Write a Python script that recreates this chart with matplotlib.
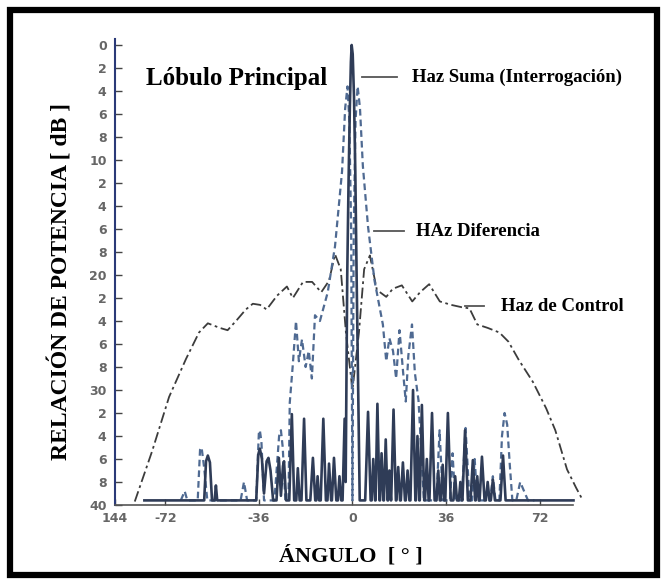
import numpy as np
import matplotlib
matplotlib.use("Agg")
import matplotlib.pyplot as plt
from matplotlib.patches import Rectangle

# Haz de Control (dash-dot)
ctrl_ang = [-83.7, -77, -70.5, -64, -59, -55.6, -51, -48, -44.4, -41, -38.3, -35.5, -33, -29,
            -25.2, -22.9, -19, -15.5, -12, -9, -6.7, -4.5, -2.5, 0, 2.5, 4.5, 6.7, 9.4, 13,
            15.5, 19, 23, 26, 29.5, 33.6, 38, 42, 45, 48, 52, 56.5, 60, 64, 69.4, 74.5, 78,
            82.5, 86, 88.6]
ctrl_db = [39.7, 35.3, 30.6, 27.3, 25.0, 24.2, 24.6, 24.8, 23.9, 23.0, 22.5, 22.6, 23.0, 21.8,
           21.0, 22.0, 20.6, 20.6, 21.5, 20.5, 18.2, 19.5, 25.0, 30.0, 25.0, 19.5, 18.3, 21.3, 21.9,
           21.2, 20.9, 22.3, 21.5, 20.8, 22.3, 22.6, 22.8, 22.9, 24.3, 24.6, 25.0, 25.8, 27.4, 29.3,
           31.6, 33.5, 36.9, 38.5, 39.6]

# Haz Suma (solid)
sum_ang = [-80, -57.0, -56.3, -55.6, -54.8, -54.0, -53.0, -52.5, -52.0,
           -37.0, -36.2, -35.6, -34.8, -34.0, -33.0, -32.3, -31.5, -30.5,
           -29.2, -28.3, -27.5, -26.7, -26.3, -25.5, -24.3, -23.3, -22.4,
           -21.6, -21.0, -20.3, -19.6, -18.6, -17.7, -16.2, -15.2, -14.3,
           -13.9, -13.4, -12.8, -12.2, -11.2, -10.2, -9.6, -9.0, -8.2,
           -7.9, -7.1, -6.2, -5.6, -5.0, -4.3, -3.8, -3.0, -2.6,
           -2.0, -1.5, -1.0, -0.6, -0.3, 0.1, 0.6, 1.1, 1.6, 2.2, 2.8,
           4.9, 6.0, 7.0, 7.4, 8.0, 8.7, 8.9, 9.6, 10.4, 10.6, 11.2, 11.9,
           12.1, 12.8, 13.5, 13.7, 14.2, 14.8, 14.9, 15.8, 16.7, 16.9, 17.6, 18.3,
           18.6, 19.4, 20.2, 20.5, 21.2, 21.9, 22.3, 23.3, 24.2, 24.4, 25.0, 25.7,
           25.9, 26.7, 27.6, 27.9, 28.6, 29.3, 29.6, 30.6, 31.6, 32.3, 33.0, 33.6,
           34.0, 34.7, 35.3, 35.7, 36.7, 37.8, 38.8, 39.5, 40.2, 40.9, 41.5, 42.1,
           42.3, 43.3, 44.4, 45.4, 46.3, 47.2, 47.4, 48.0, 48.6, 48.9, 49.8, 50.8,
           51.3, 52.0, 52.7, 53.2, 54.0, 54.8, 56.9, 57.9, 58.9, 85.0]
sum_db = [39.6, 39.6, 36.2, 35.7, 36.3, 39.6, 39.6, 38.3, 39.6,
          39.6, 35.6, 35.1, 36.0, 39.0, 36.2, 35.9, 37.0, 39.6,
          39.6, 35.9, 39.2, 36.6, 36.2, 39.6, 39.6, 32.1, 39.6,
          39.6, 36.8, 39.6, 39.6, 32.5, 39.6, 39.6, 35.9, 39.6,
          39.6, 37.5, 39.6, 39.6, 32.5, 39.6, 39.6, 36.4, 39.6,
          39.6, 35.9, 39.6, 39.6, 37.5, 39.6, 39.6, 32.5, 38.0,
          20.0, 12.0, 5.5, 1.5, 0.0, 0.8, 4.5, 11.0, 20.0, 30.0, 39.6,
          39.6, 31.9, 39.6, 39.6, 36.0, 39.6, 39.6, 31.2, 39.6, 39.6, 35.5, 39.6,
          39.6, 34.3, 39.6, 39.6, 37.0, 39.6, 39.6, 31.7, 39.6, 39.6, 36.7, 39.6,
          39.6, 36.3, 39.6, 39.6, 37.0, 39.6, 39.6, 30.0, 39.6, 39.6, 34.0, 39.6,
          39.6, 31.3, 39.6, 39.6, 36.0, 39.6, 39.6, 32.0, 39.6, 39.6, 37.0, 39.6,
          39.6, 36.5, 39.6, 39.6, 32.0, 39.6, 39.6, 37.5, 39.6, 39.6, 38.0, 39.6,
          39.6, 33.5, 39.6, 39.6, 36.1, 39.6, 39.6, 37.5, 39.6, 39.6, 35.8, 39.6,
          39.6, 38.0, 39.6, 39.6, 37.8, 39.6, 39.6, 35.7, 39.6, 39.6]

# Haz Diferencia (dashed)
dif_ang = [-66, -64.5, -63.5, -59.5, -58.6, -58.0, -57.0, -56.5, -55.8,
           -43.0, -41.7, -40.5, -37.0, -36.0, -35.6, -35.0, -34.0,
           -30.0, -28.2, -27.5, -26.8, -25.8, -24.6, -24.1, -23.0, -21.7, -20.6,
           -19.4, -18.0, -16.8, -15.6, -14.4, -12.5, -9.5, -6.7, -4.0, -2.8, -1.9,
           -1.2, -0.5, 0.0, 0.5, 1.2, 2.0, 2.9, 4.0, 6.0, 8.5, 11.7, 13.0, 14.2,
           15.6, 16.8, 18.1, 19.5, 20.5, 21.5, 22.9, 24.0, 25.4, 26.5, 27.5,
           32.3, 33.5, 34.8, 37.5, 38.5, 39.5, 42.0, 43.5, 45.0, 46.0, 47.0, 48.0,
           53.0, 54.0, 55.0, 56.5, 57.5, 58.5, 59.5, 60.5, 61.5, 63.0, 64.5, 66.0,
           67.5, 70.0]
dif_db = [39.6, 38.8, 39.6, 39.6, 35.2, 35.0, 36.8, 38.0, 39.6,
          39.6, 38.0, 39.6, 39.6, 33.8, 33.5, 34.5, 39.6,
          39.6, 34.0, 33.5, 35.0, 39.6, 39.6, 31.1, 28.0, 24.0, 27.5,
          25.6, 28.0, 26.6, 29.0, 23.5, 24.0, 21.5, 17.5, 11.0, 5.5, 3.6,
          6.5, 16.0, 39.6, 16.0, 6.5, 3.6, 5.5, 10.5, 15.8, 20.5, 24.3, 27.5, 25.5,
          26.6, 29.0, 24.8, 28.5, 31.0, 27.0, 24.3, 28.5, 30.9, 35.5, 39.6,
          39.6, 33.5, 39.6, 39.6, 35.5, 39.6, 39.6, 33.3, 39.6, 39.6, 36.0, 39.6,
          39.6, 37.5, 39.6, 39.6, 34.0, 32.0, 33.0, 36.5, 39.6, 39.6, 38.0, 38.8,
          39.6, 39.6]

ytick_vals = list(range(0, 41, 2))
ytick_labels = ["0", "2", "4", "6", "8", "10", "2", "4", "6", "8", "20",
                "2", "4", "6", "8", "30", "2", "4", "6", "8", "40"]
xtick_vals = [-91.3, -72, -36, 0, 36, 72]
xtick_labels = ["144", "-72", "-36", "0", "36", "72"]

serif = ["Liberation Serif", "DejaVu Serif"]

fig = plt.figure(figsize=(6.63, 5.79), dpi=100)
fig.patches.append(Rectangle((10 / 663, 4 / 579), 647 / 663, 565 / 579, transform=fig.transFigure,
                             fill=False, edgecolor="black", linewidth=4.5))

ax = fig.add_axes([115 / 663, 74 / 579, 471.5 / 663, 465.75 / 579])

ax.plot(ctrl_ang, ctrl_db, color="#3c3c3c", lw=1.3, linestyle=(0, (6, 2, 1.5, 2)))
ax.plot(dif_ang, dif_db, color="#4f6a92", lw=1.6, linestyle=(0, (3, 1.8)))
ax.plot(sum_ang, sum_db, color="#2f3c57", lw=1.9)

ax.set_xlim(-91.3, 90)
ax.set_ylim(40, -0.5)

for s in ["top", "right"]:
    ax.spines[s].set_visible(False)
ax.spines["left"].set_color("#2b3a78")
ax.spines["left"].set_linewidth(1.5)
ax.spines["bottom"].set_color("#555555")
ax.spines["bottom"].set_linewidth(1.2)
ax.spines["bottom"].set_bounds(-91.3, 85)

ax.set_yticks(ytick_vals)
ax.set_yticklabels(ytick_labels)
ax.set_xticks(xtick_vals)
ax.set_xticklabels(xtick_labels)
ax.tick_params(axis="y", direction="in", length=5, width=1, color="#444444",
               labelsize=9, labelcolor="#666666", pad=6)
ax.tick_params(axis="x", direction="in", length=4, width=1, color="#444444",
               labelsize=9, labelcolor="#666666", pad=5)
for lab in ax.get_xticklabels() + ax.get_yticklabels():
    lab.set_fontweight("bold")

ax.set_ylabel("RELACIÓN DE POTENCIA [ dB ]", family=serif, fontweight="bold", fontsize=17)
ax.yaxis.set_label_coords(-0.091, 0.479)
ax.set_xlabel("ÁNGULO  [ ° ]", family=serif, fontweight="bold", fontsize=16)
ax.xaxis.set_label_coords(0.5, -0.088)

ax.text(-79.4, 2.9, "Lóbulo Principal", family=serif, fontweight="bold", fontsize=18,
        ha="left", va="center")

ax.plot([3.5, 17.3], [2.8, 2.8], color="#555555", lw=1.3)
ax.text(22.9, 2.8, "Haz Suma (Interrogación)", family=serif, fontweight="bold", fontsize=13.5,
        ha="left", va="center")
ax.plot([8.3, 19.8], [16.2, 16.2], color="#555555", lw=1.3)
ax.text(24.6, 16.2, "HAz Diferencia", family=serif, fontweight="bold", fontsize=13.5,
        ha="left", va="center")
ax.plot([43.3, 50.6], [22.7, 22.7], color="#555555", lw=1.3)
ax.text(57.1, 22.7, "Haz de Control", family=serif, fontweight="bold", fontsize=13.5,
        ha="left", va="center")

fig.savefig("out.png", dpi=100)
